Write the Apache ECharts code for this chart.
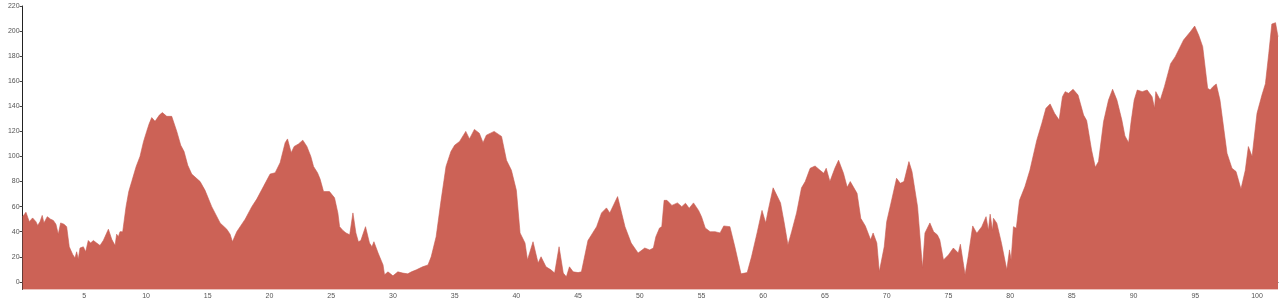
<!DOCTYPE html>
<html>
<head>
<meta charset="utf-8">
<script src="https://cdn.jsdelivr.net/npm/echarts@6/dist/echarts.min.js"></script>
<style>
html,body{margin:0;padding:0;background:#fff;}
#chart{width:1281px;height:307px;}
</style>
</head>
<body>
<div id="chart"></div>
<script>
const distanceKm = [
0,0.27,0.54,0.81,1.08,1.22,1.41,1.59,1.73,2.0,2.27,2.49,2.70,2.89,3.08,3.35,3.57,3.78,4.05,4.24,4.38,4.51,4.65,4.92,5.11,5.32,5.51,5.73,6.0,6.27,6.54,6.95,7.22,7.49,7.62,7.76,7.89,8.11,8.38,8.6,8.84,9.2,9.51,9.8,10.05,10.25,10.46,10.73,11.08,11.32,11.68,12.08,12.49,12.81,13.08,13.38,13.70,14.38,14.78,15.32,16.0,16.54,16.81,17.0,17.35,18.03,18.57,18.97,19.51,20.05,20.46,20.59,20.86,21.27,21.46,21.76,22.0,22.35,22.70,23.03,23.35,23.57,23.89,24.1,24.38,24.86,
25.27,25.54,25.68,25.95,26.2,26.5,26.76,27.0,27.2,27.4,27.78,28.1,28.3,28.46,28.8,29.2,29.32,29.6,30.0,30.4,30.8,31.2,31.5,31.9,32.4,32.84,33.1,33.5,33.9,34.3,34.7,35.0,35.4,35.9,36.2,36.6,37.0,37.3,37.57,38.2,38.8,39.2,39.6,40.0,40.3,40.7,40.9,41.35,41.76,42.0,42.4,42.8,43.1,43.46,43.8,44.05,44.3,44.6,45.0,45.27,45.8,46.5,46.9,47.3,47.57,48.2,48.8,49.3,49.86,50.4,50.8,
51.1,51.3,51.6,51.78,51.97,52.2,52.6,53.05,53.4,53.7,54.0,54.35,54.76,55.0,55.3,55.7,56.1,56.5,56.8,57.3,57.7,58.0,58.2,58.7,59.05,59.5,59.9,60.2,60.4,60.8,61.1,61.4,61.7,62.0,62.3,62.7,63.1,63.4,63.8,64.2,64.6,64.9,65.1,65.4,65.8,66.1,66.5,66.8,67.05,67.6,67.9,68.27,68.7,68.9,69.2,69.4,69.8,70.0,70.35,70.8,71.1,71.4,71.8,72.05,72.5,72.9,73.1,73.5,73.8,74.1,74.3,74.6,75.0,75.4,75.8,75.97,76.35,76.6,76.97,
77.3,77.7,78.05,78.24,78.38,78.57,78.65,78.92,79.3,79.73,79.95,80.08,80.27,80.5,80.76,81.2,81.6,82.16,82.57,82.9,83.24,83.6,83.97,84.24,84.46,84.73,85.1,85.5,85.95,86.2,86.6,86.9,87.16,87.57,87.97,88.3,88.65,89.05,89.3,89.6,89.8,90.05,90.3,90.7,91.1,91.5,91.7,91.8,92.16,92.5,93.0,93.38,94.05,94.6,94.95,95.27,95.6,96.0,96.2,96.43,96.7,97.0,97.57,97.97,98.3,98.7,99.05,99.3,99.6,100.0,100.4,100.68,100.95,101.2,101.5,101.7
];
const elevation = [
52,55.5,48,51,48,45,48,53,47,52,50,49,46,38,47,46,44,28,22,19,24,18,27,28,24,33,31,33,31,29,33,42,34,29,38,36,40,40,60,72,80,92,100,112,120,126,131,128,133,135,132,132,120,109,104,93,86,80,73,60,47,42,38,32,40,50,60,66,76,86,87,88,95,111,114,103,108,110,113,108,100,92,87,82,72,72,
67,55,44,41,39,37.5,55,39,32,33,44,31,28,32,23,13.5,5.6,8,4.8,8,7,6.4,8,9.6,12,13.5,20,36,65,92,104,109,112,120,114,121.6,118.5,111,117,120,116,97,89,73,39,31,17.5,32,15,20,12,9.6,7,28,7,4,12,8,7.4,8,33,44,55,59,55,68,44,31,23,27,25.5,
27,36,43,44,65,65,61,63,60,62.7,58.7,63,57,52,43,40,40,39,44.6,44,28,15,6.4,7.4,20,39,57,47,57,75,69,63,47,29.5,40,55,75,80,90.6,92.4,89,86.6,90.6,80,90.6,97,86.6,75.4,80,70.6,50.7,44.6,33.5,39,31,8,28,48,63,82.6,78.6,80,95.9,88,60,11,39,47,40,37.5,33.5,17.5,21.5,27,23,30,5.6,20,44.6,
38.8,44,52,41,54,41,50.7,46.8,30.8,9.6,25.5,17.5,44,42.8,65,76,89,113,126.5,138.4,141.9,134.4,129,147.7,151.7,150.4,153.6,149,133,128.6,105,91.4,96,127.8,145,153.6,145,129,116.4,111,127.8,145,153,151.7,153,147.7,138.4,151.7,145,155.7,174,179.6,192.9,199.5,204,196.9,187.6,154.4,153,155.7,157.8,145,102.5,90.6,88,74,89,107.9,99.9,134.4,149,158,182,205.6,206.7,195.5
];
const xTickValues = [5,10,15,20,25,30,35,40,45,50,55,60,65,70,75,80,85,90,95,100];
const yTickValues = [0,20,40,60,80,100,120,140,160,180,200,220];

const chart = echarts.init(document.getElementById('chart'), null, {renderer:'canvas'});
const seriesData = distanceKm.map((k, i) => [k, elevation[i]]);
const axisFont = {fontSize: 7, color: '#555', fontFamily: 'Liberation Sans, Arial, sans-serif'};
chart.setOption({
  animation: false,
  grid: {left: 22.6, right: 3, top: 6, bottom: 17.6, containLabel: false},
  xAxis: {
    type: 'value', min: 0, max: 101.7,
    axisLine: {show: true, lineStyle: {color: '#222', width: 1}},
    axisTick: {show: true, length: 3, customValues: xTickValues, lineStyle: {color: '#444'}},
    axisLabel: Object.assign({customValues: xTickValues, margin: 3}, axisFont),
    splitLine: {show: false}
  },
  yAxis: {
    type: 'value', min: -6, max: 220,
    axisLine: {show: true, lineStyle: {color: '#222', width: 1}},
    axisTick: {show: true, length: 3, customValues: yTickValues, lineStyle: {color: '#444'}},
    axisLabel: Object.assign({customValues: yTickValues, margin: 3}, axisFont),
    splitLine: {show: false}
  },
  series: [{
    type: 'line',
    data: seriesData,
    showSymbol: false,
    symbol: 'none',
    lineStyle: {width: 0.6, color: '#c85d52'},
    areaStyle: {color: '#cc6256', opacity: 1, origin: 'start'},
    itemStyle: {color: '#cc6256'}
  }]
});
</script>
</body>
</html>
